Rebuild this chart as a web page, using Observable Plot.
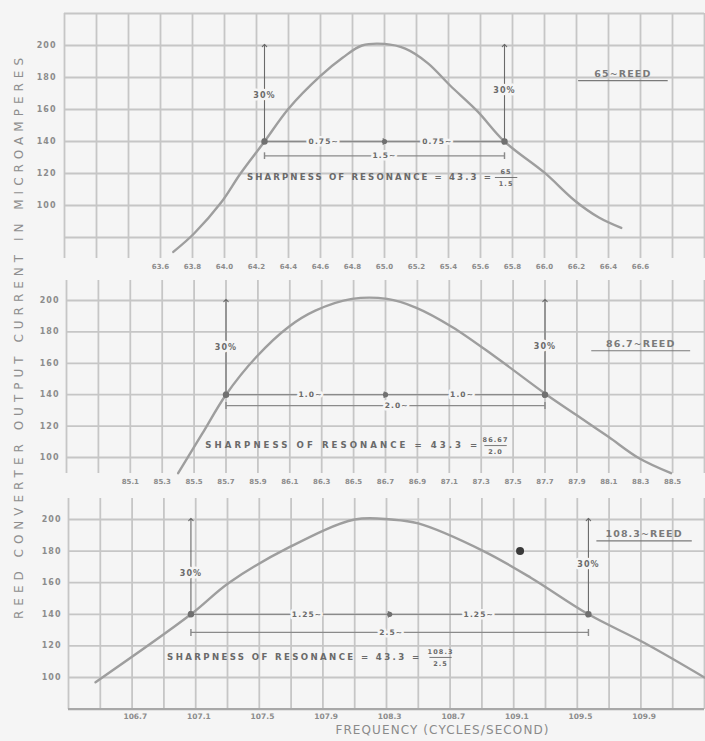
<!DOCTYPE html>
<html>
<head>
<meta charset="utf-8">
<script src="https://cdn.jsdelivr.net/npm/d3@7"></script>
<script src="https://cdn.jsdelivr.net/npm/@observablehq/plot@0.6"></script>
<style>
  html, body { margin: 0; padding: 0; background: #f5f5f5; }
  #chart { position: relative; width: 705px; height: 741px; overflow: hidden; background: #f5f5f5; font-family: "DejaVu Sans", sans-serif; }
  #chart svg { position: absolute; left: 0; overflow: visible; }
  #ytitle {
    position: absolute; left: 19px; top: 336px;
    transform: translate(-50%, -50%) rotate(-90deg);
    white-space: nowrap; font: 12px "DejaVu Sans", sans-serif; letter-spacing: 5px;
    color: #8e8e8e;
  }
  g[aria-label="y-axis tick label"] { letter-spacing: 1px; }
</style>
</head>
<body>
<div id="chart"><div id="ytitle">REED CONVERTER OUTPUT CURRENT IN MICROAMPERES</div></div>
<script>
// ---------- data ----------
const yTicks = [100, 120, 140, 160, 180, 200];
const topTicks = [63.6, 63.8, 64.0, 64.2, 64.4, 64.6, 64.8, 65.0, 65.2, 65.4, 65.6, 65.8, 66.0, 66.2, 66.4, 66.6];
const midTicks = [85.1, 85.3, 85.5, 85.7, 85.9, 86.1, 86.3, 86.5, 86.7, 86.9, 87.1, 87.3, 87.5, 87.7, 87.9, 88.1, 88.3, 88.5];
const botTicks = [106.7, 107.1, 107.5, 107.9, 108.3, 108.7, 109.1, 109.5, 109.9];

// 65 ~ reed
const topFreq    = [63.68, 63.81, 63.98, 64.10, 64.25, 64.40, 64.60, 64.74, 64.86, 65.00, 65.13, 65.27, 65.41, 65.58, 65.75, 66.00, 66.19, 66.34, 66.48];
const topCurrent = [71,    82.5,  102,   120,   140,   160.5, 181,   192.5, 200,   201,   198,   189,   175,   159,   140,   120.5, 103,   92.5,  86];
// 86.7 ~ reed
const midFreq    = [85.40, 85.55, 85.70, 85.89, 86.09, 86.26, 86.49, 86.71, 86.89, 87.12, 87.39, 87.71, 87.92, 88.10, 88.29, 88.49];
const midCurrent = [90,    115,   140,   164,   183,   193.5, 201,   201,   195.5, 183,   164,   140,   125.5, 113,   99.5,  90];
// 108.3 ~ reed
const botFreq    = [106.45, 107.05, 107.29, 107.66, 108.08, 108.31, 108.48, 108.89, 109.19, 109.55, 109.90, 110.28];
const botCurrent = [97,     140,    160,    182,    200,    200,    197.5,  180,    163,    140,    122,    100];
const botBlob    = [{f: 109.12, a: 180}];

// 30% points (left, right), centre, labels
const topPct = [64.25, 65.75], topPctLabelY = [169, 172], topCentre = 65.0;
const midPct = [85.70, 87.70], midPctLabelY = [170, 171], midCentre = 86.7;
const botPct = [107.05, 109.55], botPctLabelY = [166, 171.5], botCentre = 108.3;

const topHalf = [{f: 64.62, t: "0.75~"}, {f: 65.33, t: "0.75~"}];
const midHalf = [{f: 86.23, t: "1.0~"}, {f: 87.18, t: "1.0~"}];
const botHalf = [{f: 107.78, t: "1.25~"}, {f: 108.86, t: "1.25~"}];

const topSpan = [{a: 131, t: "1.5~", f: 65.0}];
const midSpan = [{a: 133, t: "2.0~", f: 86.77}];
const botSpan = [{a: 128.5, t: "2.5~", f: 108.31}];

const topSharp = [{f: 64.14, a: 117.5, t: "SHARPNESS OF RESONANCE = 43.3 =", ff: 65.76, num: "65", den: "1.5"}];
const midSharp = [{f: 85.57, a: 107.6, t: "SHARPNESS OF RESONANCE = 43.3 =", ff: 87.39, num: "86.67", den: "2.0"}];
const botSharp = [{f: 106.90, a: 112.7, t: "SHARPNESS OF RESONANCE = 43.3 =", ff: 108.62, num: "108.3", den: "2.5"}];

const topReed = [{f: 66.49, a: 182.5, t: "65~REED", half: 0.28, ua: 178}];
const midReed = [{f: 88.30, a: 172.6, t: "86.7~REED", half: 0.31, ua: 168}];
const botReed = [{f: 109.90, a: 191, t: "108.3~REED", half: 0.30, ua: 186.5}];

// ---------- drawing ----------
const BG = "#f5f5f5", GRID = "#c6c6c6", CURVE = "#9e9e9e", INK = "#6a6a6a", LABEL = "#8c8c8c";
const FONT = "DejaVu Sans, sans-serif";

function panel(cfg) {
  const grid = d3.range(21).map(k => cfg.x0 + 0.2 * k);
  const curve = cfg.freq.map((f, i) => ({f, a: cfg.current[i]}));
  const pct = cfg.pct.map((f, i) => ({f, ly: cfg.pctLabelY[i]}));
  const halves = [{x1: cfg.pct[0], x2: cfg.centre}, {x1: cfg.centre, x2: cfg.pct[1]}];
  const spanLinks = cfg.span.map(s => ({x1: cfg.pct[0], x2: cfg.pct[1], a: s.a}));
  const marks = [
    Plot.ruleX(grid, {stroke: GRID, strokeWidth: 1.8}),
    Plot.ruleY(cfg.hgrid, {stroke: GRID, strokeWidth: 1.8}),
    Plot.axisY(yTicks, {anchor: "left", tickSize: 0, tickPadding: cfg.yPad, fontSize: 8, fontWeight: "bold", color: LABEL, label: null, fontFamily: FONT}),
    Plot.axisX(cfg.ticks, {anchor: "bottom", tickSize: 0, tickPadding: cfg.xPad, fontSize: cfg.xFont, fontWeight: "bold", color: LABEL, label: null, tickFormat: d => d.toFixed(1), fontFamily: FONT}),
    Plot.line(curve, {x: "f", y: "a", curve: "catmull-rom", stroke: CURVE, strokeWidth: 2.4}),
    // vertical 30% arrows
    Plot.link(pct, {x1: "f", x2: "f", y1: 140, y2: 200, stroke: INK, strokeWidth: 1.1, markerStart: "arrow", markerEnd: "arrow"}),
    Plot.text(pct, {x: "f", y: "ly", text: () => "30%", fontSize: 8, fontWeight: "bold", fill: INK, stroke: BG, strokeWidth: 5, paintOrder: "stroke", fontFamily: FONT}),
    // half-band dimension lines on the 140 line
    Plot.link(halves, {x1: "x1", x2: "x2", y1: 140, y2: 140, stroke: "#8a8a8a", strokeWidth: 1.3, markerStart: "arrow", markerEnd: "arrow"}),
    Plot.text(cfg.half, {x: "f", y: 140, text: "t", fontSize: 7.5, fontWeight: "bold", fill: INK, stroke: BG, strokeWidth: 5, paintOrder: "stroke", fontFamily: FONT}),
    // full band
    Plot.link(spanLinks, {x1: "x1", x2: "x2", y1: "a", y2: "a", stroke: "#8a8a8a", strokeWidth: 1.2, markerStart: "tick", markerEnd: "tick"}),
    Plot.text(cfg.span, {x: "f", y: "a", text: "t", fontSize: 7.5, fontWeight: "bold", fill: INK, stroke: BG, strokeWidth: 5, paintOrder: "stroke", fontFamily: FONT}),
    // points
    Plot.dot(pct, {x: "f", y: 140, r: 3.2, fill: "#707070"}),
    Plot.dot([cfg.centre], {x: d => d, y: 140, r: 2.6, fill: "#707070"}),
    // sharpness
    Plot.text(cfg.sharp, {x: "f", y: "a", text: "t", textAnchor: "start", fontSize: 8.6, fontWeight: "bold", fill: INK, fontFamily: FONT}),
    Plot.text(cfg.sharp, {x: "ff", y: d => d.a + 3.8, text: "num", fontSize: 6.5, fontWeight: "bold", fill: INK, fontFamily: FONT}),
    Plot.text(cfg.sharp, {x: "ff", y: d => d.a - 4.0, text: "den", fontSize: 6.5, fontWeight: "bold", fill: INK, fontFamily: FONT}),
    Plot.link(cfg.sharp, {x1: d => d.ff - 0.07, x2: d => d.ff + 0.07, y1: "a", y2: "a", stroke: INK, strokeWidth: 0.9}),
    // reed label
    Plot.text(cfg.reed, {x: "f", y: "a", text: "t", fontSize: 9.5, fontWeight: "bold", fill: "#7a7a7a", fontFamily: FONT}),
    Plot.link(cfg.reed, {x1: d => d.f - d.half, x2: d => d.f + d.half, y1: "ua", y2: "ua", stroke: "#7a7a7a", strokeWidth: 1.2}),
    ...(cfg.extra || [])
  ];
  const svg = Plot.plot({
    width: 705, height: cfg.height,
    marginLeft: cfg.ml, marginRight: 1, marginTop: cfg.mt, marginBottom: cfg.mb,
    x: {domain: [cfg.x0, cfg.x0 + 4]},
    y: {domain: cfg.ydom},
    style: {background: "transparent", fontFamily: FONT, overflow: "visible"},
    marks
  });
  svg.style.position = "absolute";
  svg.style.top = cfg.top + "px";
  svg.style.left = "0px";
  svg.querySelectorAll("text").forEach(t => {
    const s = t.textContent;
    if (s.startsWith("SHARPNESS")) {
      t.setAttribute("textLength", cfg.sharpW);
      t.setAttribute("lengthAdjust", "spacing");
    } else if (t.closest('[aria-label="text"]')) {
      t.style.letterSpacing = "1.1px";
    }
  });
  return svg;
}

const chart = document.getElementById("chart");

chart.appendChild(panel({
  top: 0, height: 276, ml: 64, mt: 13, mb: 18, x0: 63.0, ydom: [66.875, 220],
  hgrid: [80, 100, 120, 140, 160, 180, 200, 220], ticks: topTicks, xPad: 6, xFont: 7, yPad: 8,
  freq: topFreq, current: topCurrent, pct: topPct, pctLabelY: topPctLabelY, centre: topCentre,
  half: topHalf, span: topSpan, sharp: topSharp, reed: topReed, sharpW: 244
}));

chart.appendChild(panel({
  top: 276, height: 222, ml: 66, mt: 4, mb: 25, x0: 84.7, ydom: [89.81, 212.74],
  hgrid: [100, 120, 140, 160, 180, 200], ticks: midTicks, xPad: 6, xFont: 7, yPad: 7,
  freq: midFreq, current: midCurrent, pct: midPct, pctLabelY: midPctLabelY, centre: midCentre,
  half: midHalf, span: midSpan, sharp: midSharp, reed: midReed, sharpW: 272
}));

chart.appendChild(panel({
  top: 498, height: 243, ml: 68, mt: 0, mb: 32, x0: 106.28, ydom: [79.75, 213.29],
  hgrid: [100, 120, 140, 160, 180, 200], ticks: botTicks, xPad: 4, xFont: 7.5, yPad: 7,
  freq: botFreq, current: botCurrent, pct: botPct, pctLabelY: botPctLabelY, centre: botCentre,
  half: botHalf, span: botSpan, sharp: botSharp, reed: botReed, sharpW: 252,
  extra: [
    Plot.ruleY([80], {stroke: "#a8a8a8", strokeWidth: 2.4}),
    Plot.dot(botBlob, {x: "f", y: "a", r: 4, fill: "#3a3a3a"}),
    Plot.text(["FREQUENCY (CYCLES/SECOND)"], {frameAnchor: "bottom", dx: 56, dy: 24, fontSize: 12, fill: "#8a8a8a", fontFamily: FONT})
  ]
}));
</script>
</body>
</html>
